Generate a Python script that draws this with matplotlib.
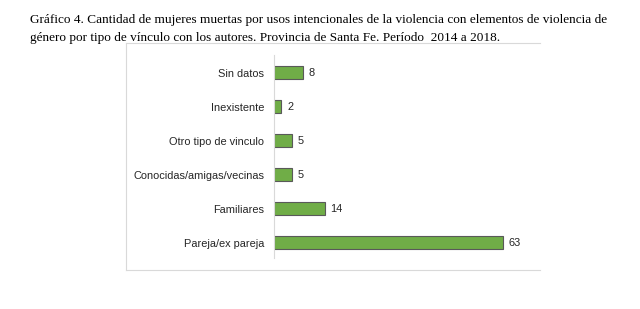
import matplotlib.pyplot as plt
from matplotlib.lines import Line2D

categorias = ["Pareja/ex pareja", "Familiares", "Conocidas/amigas/vecinas",
              "Otro tipo de vinculo", "Inexistente", "Sin datos"]
valores = [63, 14, 5, 5, 2, 8]

titulo = ["Gráfico 4. Cantidad de mujeres muertas por usos intencionales de la violencia con elementos de violencia de",
          "género por tipo de vínculo con los autores. Provincia de Santa Fe. Período  2014 a 2018."]

fig = plt.figure(figsize=(6.4, 3.09), dpi=100)
for i, linea in enumerate(titulo):
    fig.text(30 / 640, 1 - (23 + 18 * i) / 309, linea, family="Liberation Serif",
             fontsize=9.55, va="baseline", ha="left")

# marco gris claro del gráfico
gris = "#d9d9d9"
x0, x1, y0, y1 = 126 / 640, 540 / 640, 1 - 270 / 309, 1 - 43 / 309
fig.add_artist(Line2D([x0, x0], [y0, y1], transform=fig.transFigure, color=gris, lw=0.8))
fig.add_artist(Line2D([x0, x1], [y1, y1], transform=fig.transFigure, color=gris, lw=0.8))
fig.add_artist(Line2D([x0, x1], [y0, y0], transform=fig.transFigure, color=gris, lw=0.8))

ax = fig.add_axes([274 / 640, 1 - 258 / 309, 254 / 640, 203 / 309])
pos = range(len(categorias))
barras = ax.barh(pos, valores, height=0.39, color="#70ad47", edgecolor="#595959", linewidth=0.8)
for b, v in zip(barras, valores):
    ax.text(b.get_width() + 1.6, b.get_y() + b.get_height() / 2, str(v),
            va="center", ha="left", fontsize=7.9, family="Liberation Sans", color="#262626")

ax.set_yticks(list(pos))
ax.set_yticklabels(categorias, fontsize=7.9, family="Liberation Sans", color="#262626")
ax.tick_params(axis="y", length=0, pad=7)
ax.set_xticks([])
ax.set_xlim(0, 70)
ax.set_ylim(-0.45, 5.52)
for s in ["top", "right", "bottom"]:
    ax.spines[s].set_visible(False)
ax.spines["left"].set_color(gris)
ax.spines["left"].set_linewidth(0.8)

fig.savefig("out.png", dpi=100)
